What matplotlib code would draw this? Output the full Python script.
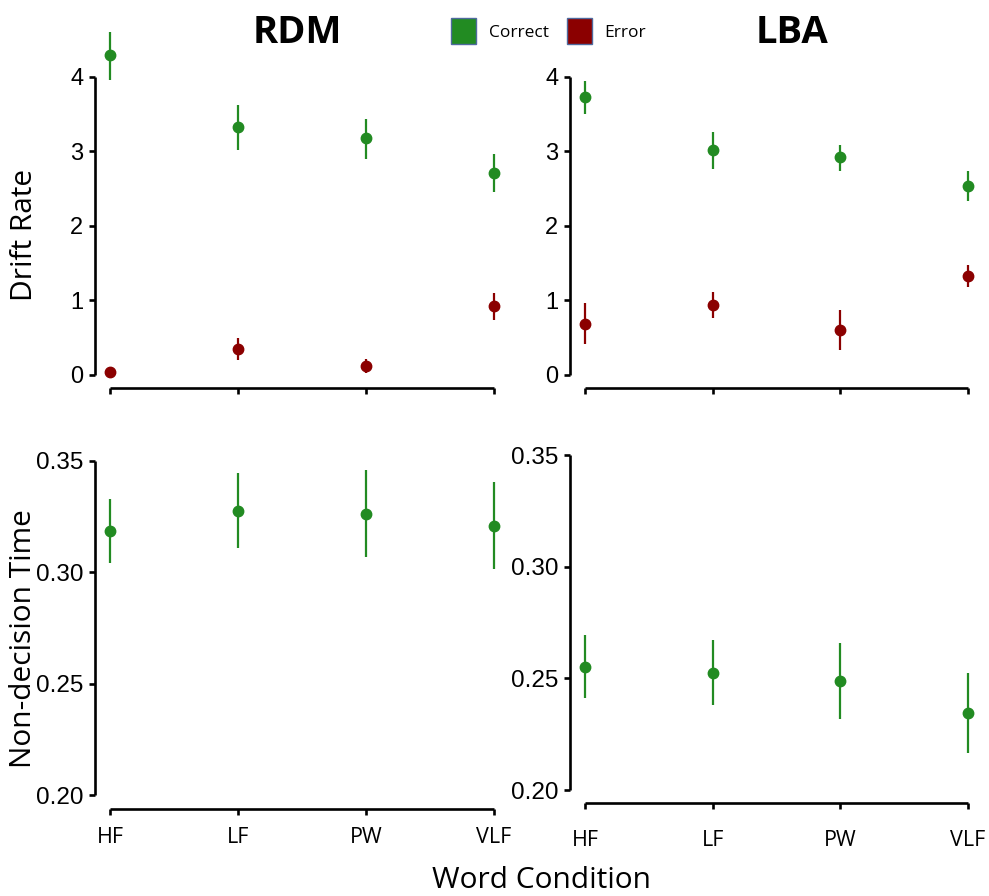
import numpy as np
import matplotlib
matplotlib.use("Agg")
import matplotlib.pyplot as plt
from matplotlib.patches import Patch

# ---- data -------------------------------------------------------------
categories = ["HF", "LF", "PW", "VLF"]

# RDM drift rates
rdm_correct = [4.30, 3.33, 3.18, 2.71]
rdm_correct_lo = [3.96, 3.02, 2.90, 2.46]
rdm_correct_hi = [4.60, 3.62, 3.44, 2.97]
rdm_error = [0.04, 0.35, 0.12, 0.92]
rdm_error_lo = [0.01, 0.20, 0.03, 0.74]
rdm_error_hi = [0.07, 0.50, 0.21, 1.10]

# LBA drift rates
lba_correct = [3.73, 3.02, 2.92, 2.54]
lba_correct_lo = [3.50, 2.77, 2.74, 2.33]
lba_correct_hi = [3.95, 3.26, 3.09, 2.74]
lba_error = [0.69, 0.94, 0.60, 1.33]
lba_error_lo = [0.41, 0.76, 0.33, 1.18]
lba_error_hi = [0.97, 1.12, 0.87, 1.48]

# Non-decision times
rdm_ndt = [0.3185, 0.3275, 0.3261, 0.3206]
rdm_ndt_lo = [0.3041, 0.3108, 0.3070, 0.3014]
rdm_ndt_hi = [0.3329, 0.3445, 0.3459, 0.3405]
lba_ndt = [0.2551, 0.2524, 0.2488, 0.2345]
lba_ndt_lo = [0.2410, 0.2380, 0.2319, 0.2164]
lba_ndt_hi = [0.2694, 0.2672, 0.2657, 0.2522]

drift_ticks = [0, 1, 2, 3, 4]
ndt_ticks = [0.20, 0.25, 0.30, 0.35]

GREEN = "#228B22"
RED = "#8B0000"
NUM_FONT = "Liberation Sans"
TXT_FONT = "Open Sans"

W, H = 989, 896
fig = plt.figure(figsize=(W / 100, H / 100), dpi=100)


def panel(left, right, top, bottom):
    return fig.add_axes([left / W, 1 - bottom / H, (right - left) / W, (bottom - top) / H])


def style(ax, yticks, ylim, ylabels, numsize, xlabels, xpad):
    x = np.arange(1, len(categories) + 1)
    ax.set_xlim(0.88, len(categories) + 0.12)
    ax.set_ylim(*ylim)
    for s in ("top", "right"):
        ax.spines[s].set_visible(False)
    for s in ("left", "bottom"):
        ax.spines[s].set_linewidth(1.9)
        ax.spines[s].set_capstyle("butt")
    ax.spines["left"].set_bounds(yticks[0], yticks[-1])
    ax.spines["bottom"].set_bounds(x[0], x[-1])
    ax.set_yticks(yticks)
    ax.set_yticklabels(ylabels, fontfamily=NUM_FONT, fontsize=numsize)
    ax.set_xticks(x)
    if xlabels:
        ax.set_xticklabels(categories, fontfamily=TXT_FONT, fontsize=15.5)
    else:
        ax.set_xticklabels([])
    ax.tick_params(axis="both", direction="out", length=4.3, width=1.9, colors="black")
    ax.tick_params(axis="y", pad=4)
    ax.tick_params(axis="x", pad=xpad)
    ax.patch.set_visible(False)


def points(ax, mean, lo, hi, color):
    x = np.arange(1, len(categories) + 1)
    mean = np.asarray(mean)
    err = [mean - np.asarray(lo), np.asarray(hi) - mean]
    ax.errorbar(x, mean, yerr=err, fmt="o", color=color, ms=7.5,
                elinewidth=1.6, capsize=0, clip_on=False, zorder=3)


# drift-rate panels
ax1 = panel(95, 509.4, 20, 388)
points(ax1, rdm_correct, rdm_correct_lo, rdm_correct_hi, GREEN)
points(ax1, rdm_error, rdm_error_lo, rdm_error_hi, RED)
style(ax1, drift_ticks, (-0.1745, 4.765), [str(t) for t in drift_ticks], 17, False, 0)

ax2 = panel(570, 983, 20, 388)
points(ax2, lba_correct, lba_correct_lo, lba_correct_hi, GREEN)
points(ax2, lba_error, lba_error_lo, lba_error_hi, RED)
style(ax2, drift_ticks, (-0.1745, 4.765), [str(t) for t in drift_ticks], 17, False, 0)

# non-decision time panels
ax3 = panel(95, 509.4, 447.3, 808.7)
points(ax3, rdm_ndt, rdm_ndt_lo, rdm_ndt_hi, GREEN)
style(ax3, ndt_ticks, (0.194, 0.356), [f"{t:.2f}" for t in ndt_ticks], 17.5, True, 9)

ax4 = panel(570, 983, 441.6, 803.4)
points(ax4, lba_ndt, lba_ndt_lo, lba_ndt_hi, GREEN)
style(ax4, ndt_ticks, (0.194, 0.356), [f"{t:.2f}" for t in ndt_ticks], 17.5, True, 15)

# titles and shared labels
fig.text(297 / W, 1 - 33 / H, "RDM", ha="center", va="center",
         fontfamily=TXT_FONT, fontweight="bold", fontsize=27.5)
fig.text(792 / W, 1 - 33 / H, "LBA", ha="center", va="center",
         fontfamily=TXT_FONT, fontweight="bold", fontsize=27.5)
fig.text(25 / W, 1 - 235 / H, "Drift Rate", ha="center", va="center", rotation=90,
         fontfamily=TXT_FONT, fontsize=21.5)
fig.text(24 / W, 1 - 639 / H, "Non-decision Time", ha="center", va="center", rotation=90,
         fontfamily=TXT_FONT, fontsize=21.5)
fig.text(542 / W, 1 - 880 / H, "Word Condition", ha="center", va="center",
         fontfamily=TXT_FONT, fontsize=21.5)

handles = [Patch(facecolor=GREEN, edgecolor="#4F6A9E", linewidth=1.0, label="Correct"),
           Patch(facecolor=RED, edgecolor="#4F6A9E", linewidth=1.0, label="Error")]
fig.legend(handles=handles, loc="center left", bbox_to_anchor=(451 / W, 1 - 31 / H),
           ncol=2, frameon=False, borderpad=0, borderaxespad=0,
           handlelength=1.45, handleheight=1.9, handletextpad=0.75,
           columnspacing=1.0, prop={"family": TXT_FONT, "size": 12.5})

fig.savefig("out.png", dpi=100, facecolor="white")
